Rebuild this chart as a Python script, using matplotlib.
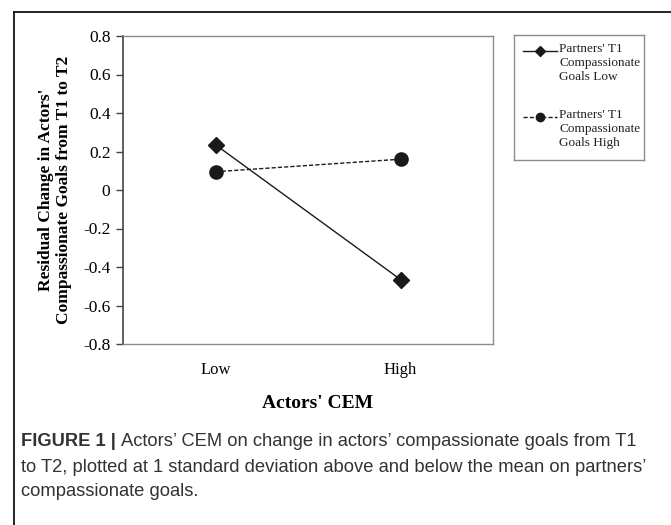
import matplotlib
matplotlib.use("Agg")
import matplotlib.pyplot as plt
from matplotlib.lines import Line2D

# values
categories = ["Low", "High"]
goals_low = [0.235, -0.465]    # partners' T1 compassionate goals low
goals_high = [0.095, 0.16]     # partners' T1 compassionate goals high
y_ticks = [0.8, 0.6, 0.4, 0.2, 0, -0.2, -0.4, -0.6, -0.8]
y_tick_labels = ["0.8", "0.6", "0.4", "0.2", "0", "-0.2", "-0.4", "-0.6", "-0.8"]
legend_labels = ["Partners' T1\nCompassionate\nGoals Low",
                 "Partners' T1\nCompassionate\nGoals High"]

W, H = 671, 525
serif = ["Liberation Serif", "DejaVu Serif"]
sans = ["Liberation Sans", "DejaVu Sans"]


def box(x0, y0, x1, y1):
    # pixel box (top-left origin) -> figure fraction rect
    return [x0 / W, 1 - y1 / H, (x1 - x0) / W, (y1 - y0) / H]


fig = plt.figure(figsize=(W / 100, H / 100), dpi=100)

# outer frame of the figure panel (cropped at right and bottom)
fig.add_artist(Line2D([14 / W, 14 / W], [1 - 12 / H, 0], color="black", lw=1.2))
fig.add_artist(Line2D([14 / W, 1], [1 - 12 / H, 1 - 12 / H], color="black", lw=1.2))

ax = fig.add_axes(box(123, 36, 493, 344))
x = list(range(len(categories)))
ax.plot(x, goals_low, color="#1a1a1a", lw=1.0, marker="D", markersize=8)
ax.plot(x, goals_high, color="#1a1a1a", lw=1.0, ls=(0, (3, 1.5)), marker="o", markersize=9.5)

ax.set_xlim(-0.5, 1.5)
ax.set_ylim(-0.8, 0.8)
ax.set_yticks(y_ticks)
ax.set_yticklabels(y_tick_labels, family=serif, fontsize=12.5)
ax.set_xticks(x)
ax.set_xticklabels(categories, family=serif, fontsize=12)
ax.tick_params(axis="x", length=0, pad=13)
ax.tick_params(axis="y", length=5, width=1, direction="out", color="#444444", pad=4)
for side in ["top", "right", "bottom"]:
    ax.spines[side].set_color("#8c8c8c")
    ax.spines[side].set_linewidth(1.0)
ax.spines["left"].set_color("#444444")
ax.spines["left"].set_linewidth(1.2)

ax.set_ylabel("Residual Change in Actors'\nCompassionate Goals from T1 to T2",
              family=serif, fontsize=12.5, fontweight="bold", linespacing=1.2, labelpad=8)
# axis title, centred a little right of the plot centre as in the original
fig.text(318 / W, 1 - 403 / H, "Actors' CEM", family=serif, fontsize=14,
         fontweight="bold", ha="center", va="center")

# legend box
lg = fig.add_axes(box(514, 35, 644, 160))
lg.set_xlim(514, 644)
lg.set_ylim(160, 35)
lg.set_xticks([])
lg.set_yticks([])
for s in lg.spines.values():
    s.set_color("#8c8c8c")
    s.set_linewidth(1.0)
lg.add_line(Line2D([523, 557], [51, 51], color="#1a1a1a", lw=1.0))
lg.add_line(Line2D([540], [51], color="#1a1a1a", marker="D", markersize=5))
lg.add_line(Line2D([523, 557], [117, 117], color="#1a1a1a", lw=1.0, ls=(0, (3, 1.5))))
lg.add_line(Line2D([540], [117], color="#1a1a1a", marker="o", markersize=6))
lg.text(559, 43, legend_labels[0], family=serif, fontsize=9.5, va="top", linespacing=1.2, color="#222222")
lg.text(559, 109, legend_labels[1], family=serif, fontsize=9.5, va="top", linespacing=1.2, color="#222222")

# caption
cap_y = [442, 467, 492]
cap_size = 13.2
head = fig.text(21 / W, 1 - cap_y[0] / H, "FIGURE 1 | ", family=sans, fontsize=cap_size,
                fontweight="bold", color="#333333", va="center")
fig.canvas.draw()
bb = head.get_window_extent()
fig.text(bb.x1 / W, 1 - cap_y[0] / H,
         "Actors\u2019 CEM on change in actors\u2019 compassionate goals from T1",
         family=sans, fontsize=cap_size, color="#333333", va="center")
fig.text(21 / W, 1 - cap_y[1] / H,
         "to T2, plotted at 1 standard deviation above and below the mean on partners\u2019",
         family=sans, fontsize=cap_size, color="#333333", va="center")
fig.text(21 / W, 1 - cap_y[2] / H, "compassionate goals.",
         family=sans, fontsize=cap_size, color="#333333", va="center")

fig.savefig("out.png", dpi=100)
